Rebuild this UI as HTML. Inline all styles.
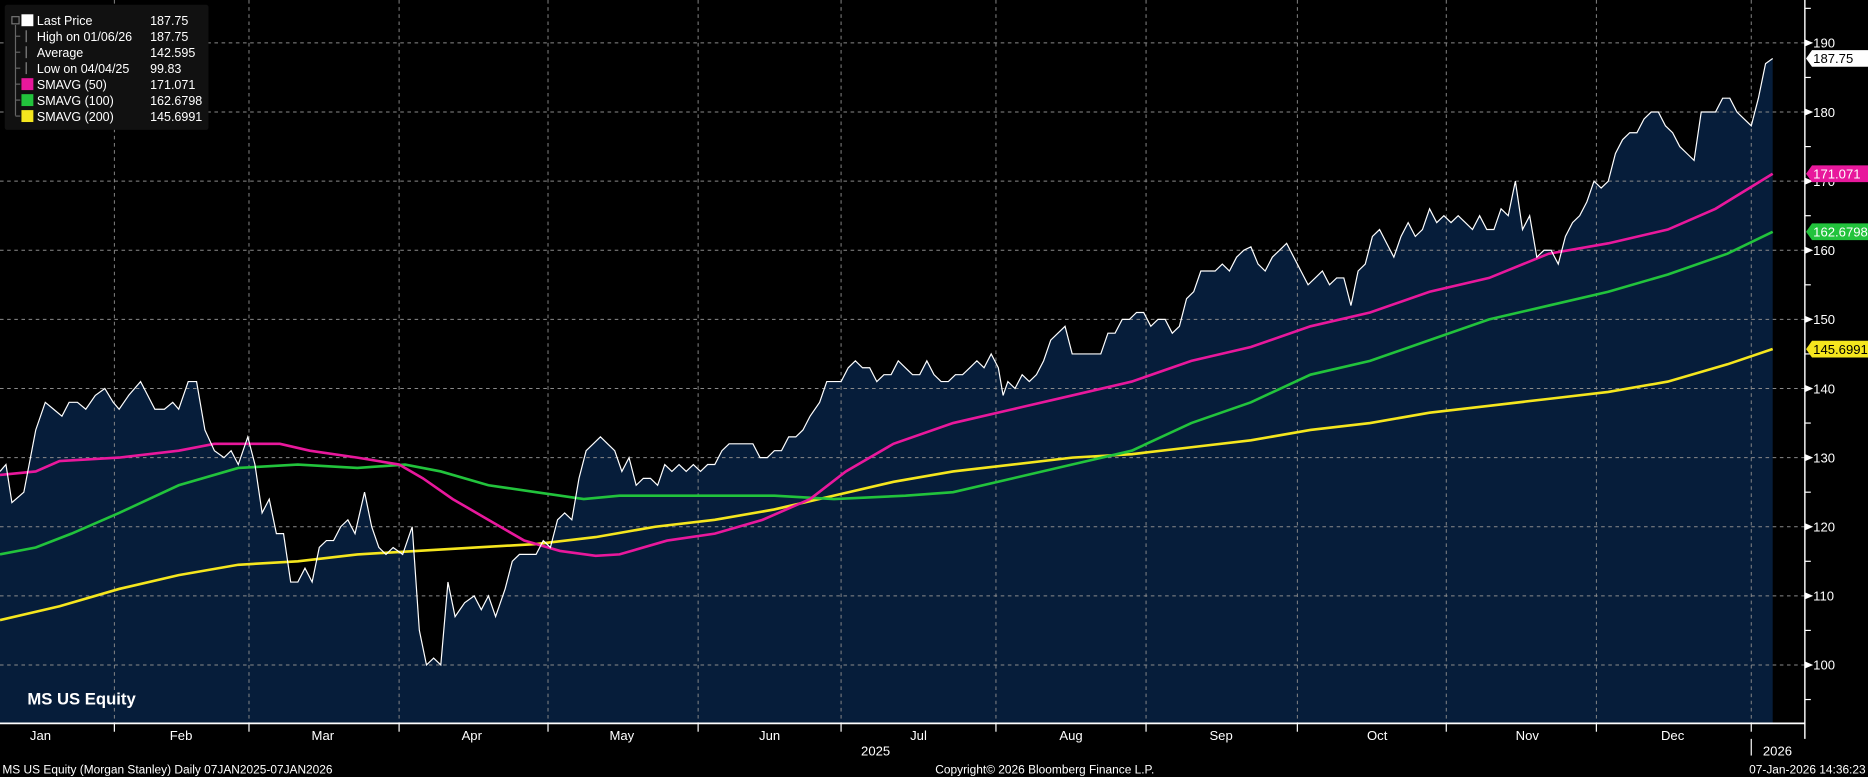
<!DOCTYPE html>
<html><head><meta charset="utf-8"><style>
html,body{margin:0;padding:0;background:#000;overflow:hidden}
svg{display:block}
text{font-family:"Liberation Sans",sans-serif}
</style></head><body>
<svg id="s" width="1868" height="777" viewBox="0 0 1568 652" preserveAspectRatio="none" xmlns="http://www.w3.org/2000/svg">
<rect width="1568" height="652" fill="#000"/>
<g id="g"></g>
</svg>
<script>
const NS="http://www.w3.org/2000/svg",G=document.getElementById('g');
function el(t,a,txt){const e=document.createElementNS(NS,t);for(const k in a)e.setAttribute(k,a[k]);if(txt!==undefined)e.textContent=txt;G.appendChild(e);return e;}
const Y=p=>558-(p-100)*5.8;
const price=[[0,128],[5,129],[10,123.5],[20,125],[30,134],[38,138],[45,137],[52,136],[58,138],[65,138],[72,137],[80,139],[88,140],[95,138],[100,137],[108,139],[118,141],[124,139],[130,137],[138,137],[145,138],[150,137],[158,141],[165,141],[172,134],[180,131],[188,130],[194,131],[200,129],[208,133],[214,129],[220,122],[226,124],[232,119],[238,119],[244,112],[250,112],[256,114],[262,112],[268,117],[274,118],[280,118],[286,120],[292,121],[298,119],[306,125],[312,120],[318,117],[324,116],[330,117],[338,116],[346,120],[352,105],[358,100],[364,101],[370,100],[376,112],[382,107],[390,109],[398,110],[404,108],[410,110],[416,107],[424,111],[430,115],[436,116],[442,116],[450,116],[456,118],[462,117],[468,121],[474,122],[480,121],[486,127],[492,131],[498,132],[504,133],[510,132],[516,131],[522,128],[528,130],[534,126],[540,127],[546,127],[552,126],[558,129],[564,128],[570,129],[576,128],[582,129],[588,128],[594,129],[600,129],[606,131],[612,132],[618,132],[624,132],[632,132],[638,130],[644,130],[650,131],[656,131],[662,133],[668,133],[674,134],[680,136],[688,138],[694,141],[700,141],[706,141],[712,143],[718,144],[724,143],[730,143],[736,141],[742,142],[748,142],[754,144],[760,143],[766,142],[772,142],[778,144],[784,142],[790,141],[796,141],[802,142],[808,142],[814,143],[820,144],[826,143],[832,145],[838,143],[842,139],[846,141],[852,140],[858,142],[864,141],[870,142],[876,144],[882,147],[888,148],[894,149],[900,145],[906,145],[912,145],[918,145],[924,145],[930,148],[936,148],[942,150],[948,150],[954,151],[960,151],[966,149],[972,150],[978,150],[984,148],[990,149],[996,153],[1002,154],[1008,157],[1014,157],[1020,157],[1026,158],[1032,157],[1038,159],[1044,160],[1050,160.5],[1056,158],[1062,157],[1068,159],[1074,160],[1080,161],[1086,159],[1092,157],[1098,155],[1104,156],[1110,157],[1116,155],[1122,156],[1128,156],[1134,152],[1140,157],[1146,158],[1152,162],[1158,163],[1164,161],[1170,159],[1176,162],[1182,164],[1188,162],[1194,163],[1200,166],[1206,164],[1212,165],[1218,164],[1224,165],[1230,164],[1236,163],[1242,165],[1248,163],[1254,163],[1260,166],[1266,165],[1272,170],[1278,163],[1284,165],[1290,159],[1296,160],[1302,160],[1308,158],[1314,162],[1320,164],[1326,165],[1332,167],[1338,170],[1344,169],[1350,170],[1356,174],[1362,176],[1368,177],[1374,177],[1380,179],[1386,180],[1392,180],[1398,178],[1404,177],[1410,175],[1416,174],[1422,173],[1428,180],[1434,180],[1440,180],[1446,182],[1452,182],[1458,180],[1464,179],[1470,178],[1476,182],[1482,187],[1488,187.75]];
const s50=[[0,127.5],[30,128],[50,129.5],[100,130],[150,131],[180,132],[235,132],[260,131],[300,130],[335,129],[355,127],[380,124],[410,121],[440,118],[470,116.5],[500,115.8],[520,116],[560,118],[600,119],[640,121],[680,124],[710,128],[750,132],[800,135],[850,137],[900,139],[950,141],[1000,144],[1050,146],[1100,149],[1150,151],[1200,154],[1250,156],[1300,159.5],[1350,161],[1400,163],[1440,166],[1488,171.07]];
const s100=[[0,116],[30,117],[60,119],[100,122],[150,126],[200,128.5],[250,129],[300,128.5],[340,129],[370,128],[410,126],[450,125],[490,124],[520,124.5],[600,124.5],[650,124.5],[700,124],[760,124.5],[800,125],[850,127],[900,129],[950,131],[1000,135],[1050,138],[1100,142],[1150,144],[1200,147],[1250,150],[1300,152],[1350,154],[1400,156.5],[1450,159.5],[1488,162.68]];
const s200=[[0,106.5],[50,108.5],[100,111],[150,113],[200,114.5],[250,115],[300,116],[350,116.5],[400,117],[450,117.5],[500,118.5],[550,120],[600,121],[650,122.5],[700,124.5],[750,126.5],[800,128],[850,129],[900,130],[950,130.5],[1000,131.5],[1050,132.5],[1100,134],[1150,135],[1200,136.5],[1250,137.5],[1300,138.5],[1350,139.5],[1400,141],[1450,143.5],[1488,145.7]];
const pts=a=>a.map(p=>p[0]+','+Y(p[1]).toFixed(1)).join(' ');
el('polygon',{points:'0,607 '+pts(price)+' 1488,607',fill:'#061d3a'});
for(let v=100;v<=190;v+=10)el('line',{x1:0,x2:1515,y1:Y(v),y2:Y(v),stroke:'#8a8a8a','stroke-width':0.8,'stroke-dasharray':'3,3'});
const mx=[96,209,335,460,586,706,836,962,1089,1214,1340,1470];
mx.forEach(x=>el('line',{x1:x,x2:x,y1:0,y2:607,stroke:'#8a8a8a','stroke-width':0.8,'stroke-dasharray':'3,3'}));
el('polyline',{points:pts(s200),fill:'none',stroke:'#f5e61e','stroke-width':2.2});
el('polyline',{points:pts(s100),fill:'none',stroke:'#22c33c','stroke-width':2.2});
el('polyline',{points:pts(s50),fill:'none',stroke:'#e8189c','stroke-width':2.2});
el('polyline',{points:pts(price),fill:'none',stroke:'#fff','stroke-width':1});
el('line',{x1:0,x2:1515,y1:607,y2:607,stroke:'#fff','stroke-width':1.5});
el('line',{x1:1515,x2:1515,y1:0,y2:620,stroke:'#fff','stroke-width':1.2});
mx.forEach(x=>el('line',{x1:x,x2:x,y1:607,y2:614,stroke:'#fff','stroke-width':1}));
for(let v=95;v<=195;v+=5){const y=Y(v);if(y<0||y>607)continue;
 if(v%10==0){el('polygon',{points:`1515,${y-3} 1522,${y} 1515,${y+3}`,fill:'#fff'});el('text',{x:1522,y:y+4,fill:'#fff','font-size':11},v);}
 else el('line',{x1:1515,x2:1520,y1:y,y2:y,stroke:'#fff'});}
[[187.75,'#fff','#000','187.75'],[171.071,'#e8189c','#fff','171.071'],[162.6798,'#22c33c','#fff','162.6798'],[145.6991,'#f5e61e','#000','145.6991']].forEach(t=>{const y=Y(t[0]);
 el('polygon',{points:`1516,${y} 1521,${y-7} 1568,${y-7} 1568,${y+7} 1521,${y+7}`,fill:t[1]});
 el('text',{x:1522,y:y+4,fill:t[2],'font-size':11},t[3]);});
[['Jan',34],['Feb',152],['Mar',271],['Apr',396],['May',522],['Jun',646],['Jul',771],['Aug',899],['Sep',1025],['Oct',1156],['Nov',1282],['Dec',1404]].forEach(m=>el('text',{x:m[1],y:621,fill:'#fff','font-size':11,'text-anchor':'middle'},m[0]));
el('text',{x:735,y:634,fill:'#fff','font-size':11,'text-anchor':'middle'},'2025');
el('text',{x:1492,y:634,fill:'#fff','font-size':11,'text-anchor':'middle'},'2026');
el('line',{x1:1470,x2:1470,y1:620,y2:634,stroke:'#fff'});
el('text',{x:2,y:649,fill:'#fff','font-size':10},'MS US Equity (Morgan Stanley) Daily 07JAN2025-07JAN2026');
el('text',{x:877,y:649,fill:'#fff','font-size':10,'text-anchor':'middle'},'Copyright© 2026 Bloomberg Finance L.P.');
el('text',{x:1566,y:649,fill:'#fff','font-size':10,'text-anchor':'end'},'07-Jan-2026 14:36:23');
el('text',{x:23,y:591,fill:'#fff','font-size':14,'font-weight':'bold'},'MS US Equity');
el('rect',{x:4,y:4,width:171,height:105,fill:'#111',rx:2});
el('line',{x1:13,x2:13,y1:21,y2:97,stroke:'#666'});
el('rect',{x:10,y:14,width:6,height:6,fill:'none',stroke:'#777'});
const L=[['Last Price','187.75','#fff'],['High on 01/06/26','187.75',null],['Average','142.595',null],['Low on 04/04/25','  99.83',null],['SMAVG (50)','171.071','#e8189c'],['SMAVG (100)','162.6798','#22c33c'],['SMAVG (200)','145.6991','#f5e61e']];
L.forEach((r,i)=>{const y=17+i*13.4;
 if(r[2])el('rect',{x:18,y:y-5,width:10,height:10,fill:r[2]});
 else{el('line',{x1:22,x2:22,y1:y-5,y2:y+5,stroke:'#888'});}
 if(i>0)el('line',{x1:13,x2:17,y1:y,y2:y,stroke:'#666'});
 el('text',{x:31,y:y+4,fill:'#fff','font-size':10.5},r[0]);
 el('text',{x:126,y:y+4,fill:'#fff','font-size':10.5,'xml:space':'preserve'},r[1]);});
</script>
</body></html>
